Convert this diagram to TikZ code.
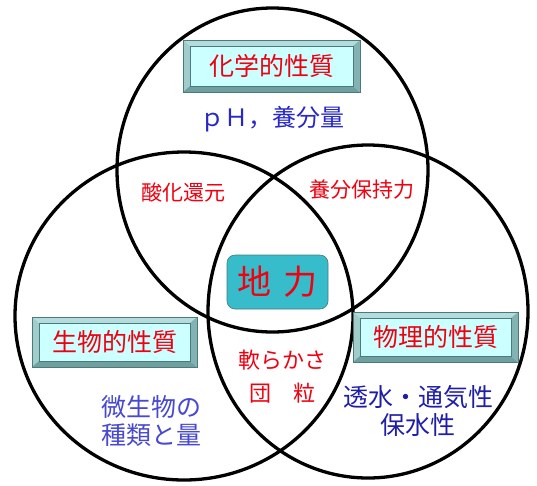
\documentclass[tikz,border=0pt]{standalone}
\usepackage{fontspec}
\newfontfamily\jp{Noto Sans CJK JP}
\definecolor{bevface}{HTML}{CCFFFF}
\definecolor{bevtop}{HTML}{B4DCDC}
\definecolor{bevleft}{HTML}{A0CCCC}
\definecolor{bevbottom}{HTML}{6F9F9F}
\definecolor{bevright}{HTML}{82B2B2}
\definecolor{bevedge}{HTML}{4A7A7A}
\definecolor{corefill}{HTML}{36BCCB}
\definecolor{txtred}{HTML}{F00010}
\definecolor{txtblue}{HTML}{2828C8}
\definecolor{txtnavy}{HTML}{1E1EA8}
\begin{document}
\begin{tikzpicture}[x=1pt,y=-1pt,
  ring/.style={draw=black, line width=3.3pt},
  bevelbox/.style={rectangle, fill=bevface, draw=bevedge, line width=0.8pt,
    inner sep=0pt, text=txtred, font=\jp\fontsize{25pt}{28pt}\selectfont,
    path picture={
      \coordinate (nw) at (path picture bounding box.north west);
      \coordinate (ne) at (path picture bounding box.north east);
      \coordinate (sw) at (path picture bounding box.south west);
      \coordinate (se) at (path picture bounding box.south east);
      \fill[bevtop] (nw) -- (ne) -- ([xshift=-7pt,yshift=-6pt]ne) -- ([xshift=7pt,yshift=-6pt]nw) -- cycle;
      \fill[bevleft] (nw) -- ([xshift=7pt,yshift=-6pt]nw) -- ([xshift=7pt,yshift=6pt]sw) -- (sw) -- cycle;
      \fill[bevbottom] (sw) -- ([xshift=7pt,yshift=6pt]sw) -- ([xshift=-7pt,yshift=6pt]se) -- (se) -- cycle;
      \fill[bevright] (se) -- ([xshift=-7pt,yshift=6pt]se) -- ([xshift=-7pt,yshift=-6pt]ne) -- (ne) -- cycle;
      \draw[bevedge, line width=0.6pt] ([xshift=7pt,yshift=-6pt]nw) rectangle ([xshift=-7pt,yshift=6pt]se);
    }},
  redtxt/.style={text=txtred, inner sep=0pt, font=\jp\fontsize{21pt}{26pt}\selectfont, align=center},
  bluetxt/.style={text=txtblue, inner sep=0pt, font=\jp\fontsize{25pt}{28pt}\selectfont, align=center}
]
\useasboundingbox (0,0) rectangle (537,485);
\fill[white] (0,0) rectangle (537,485);

% three overlapping rings
\draw[ring] (272.5,170) ellipse[x radius=155.5pt, y radius=162pt];
\draw[ring] (184,316) ellipse[x radius=169pt, y radius=164pt];
\draw[ring] (368,311.5) ellipse[x radius=160pt, y radius=166.5pt];

% headings
\node[bevelbox, minimum width=177pt, minimum height=52pt] (chem) at (271.5,66) {化学的性質};
\node[bevelbox, minimum width=165pt, minimum height=50pt] (bio) at (114.5,342) {生物的性質};
\node[bevelbox, minimum width=165pt, minimum height=50pt] (phys) at (435.5,337) {物理的性質};

% core
\node[rectangle, rounded corners=8pt, fill=corefill, draw=bevedge, line width=0.6pt,
  minimum width=101pt, minimum height=54pt, inner sep=0pt, text=txtred,
  font=\jp\fontsize{34pt}{36pt}\selectfont] (core) at (277.5,282) {地\hspace{13pt}力};

% contents
\node[bluetxt, text=txtblue, font=\jp\fontsize{24pt}{28pt}\selectfont] (chemtxt) at (272,119) {ｐＨ，養分量};
\node[bluetxt, text=txtblue!85!white] (biotxt) at (151,421) {微生物の\\種類と量};
\node[bluetxt, text=txtnavy] (phystxt) at (418,411) {透水・通気性\\保水性};

% overlaps
\node[redtxt] (redox) at (183,192) {酸化還元};
\node[redtxt] (hold) at (362,190) {養分保持力};
\node[redtxt, font=\jp\fontsize{22pt}{33pt}\selectfont] (soft) at (282,377) {軟らかさ\\団　粒};
\end{tikzpicture}
\end{document}
